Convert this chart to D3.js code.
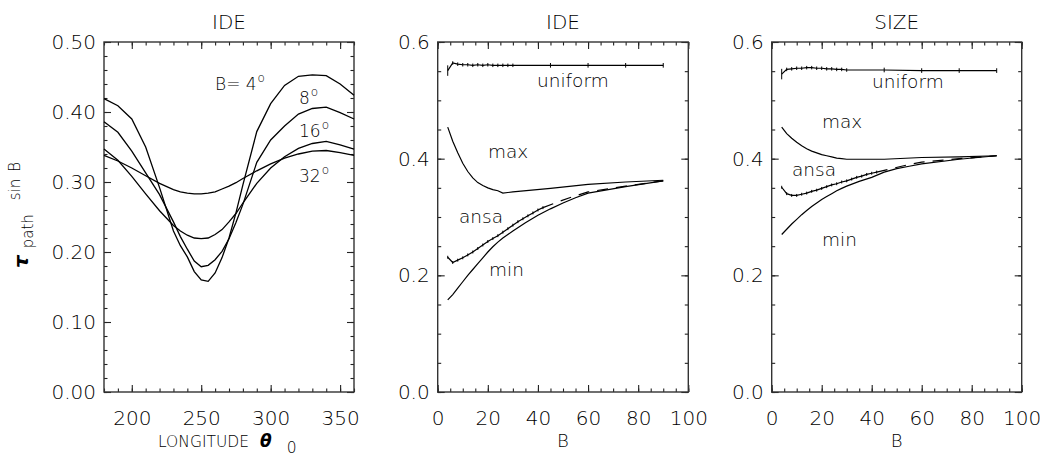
<!DOCTYPE html>
<html><head><meta charset="utf-8">
<script src="https://cdn.jsdelivr.net/npm/d3@7"></script>
<style>
body{margin:0;background:#fff}
text{font-family:"DejaVu Sans",sans-serif;fill:#000;font-weight:200}
</style>
</head><body>
<svg id="c" width="1044" height="456"></svg>
<script>
// ---------- Panel 1: IDE, tau_path sin B vs longitude ----------
const lonDeg = [180,190,200,210,220,230,235,240,245,250,255,260,265,270,275,280,290,300,310,320,330,340,350,360];
const tauB4  = [.419,.409,.390,.350,.292,.230,.209,.193,.172,.160,.158,.170,.192,.220,.256,.296,.372,.412,.438,.451,.453,.452,.440,.424];
const tauB8  = [.386,.371,.344,.313,.282,.243,.222,.204,.187,.179,.181,.189,.201,.219,.242,.268,.328,.360,.380,.397,.405,.407,.399,.390];
const tauB16 = [.347,.331,.308,.283,.259,.238,.230,.224,.220,.219,.220,.225,.232,.243,.255,.270,.298,.320,.336,.348,.355,.358,.353,.347];
const tauB32 = [.338,.330,.320,.309,.298,.289,.286,.284,.283,.283,.284,.286,.290,.294,.299,.305,.316,.326,.334,.340,.344,.345,.342,.338];
const curveLabels1 = ["B= 4","8","16","32"];
const curveLabelPos1 = [[215,90],[299,104],[299,137],[299,182]];

// ---------- Panels 2/3: vs B ----------
const uniB  = [4,6,8,10,12,14,16,18,20,22,24,26,28,30,45,60,75,90];
const ideUniform  = [.551,.564,.562,.561,.561,.560,.561,.560,.561,.560,.560,.560,.560,.560,.560,.560,.560,.560];
const sizeUniform = [.545,.553,.554,.555,.555,.556,.556,.555,.555,.554,.554,.553,.553,.552,.552,.551,.551,.551];
const uniErr = [.009,.003,.003,.003,.003,.003,.003,.003,.003,.003,.003,.003,.003,.003,.004,.004,.004,.004];

const maxB = uniB;
const ideMax  = [.454,.430,.410,.392,.378,.367,.359,.354,.350,.347,.345,.341,.342,.343,.349,.356,.360,.363];
const sizeMax = [.454,.443,.435,.428,.422,.417,.413,.410,.407,.405,.403,.401,.400,.399,.399,.402,.403,.405];

const ansaB = [4,6,8,10,12,14,16,18,20,22,24,26,28,30,32,34,36,38,40,42,48,54,60,75,90];
const ideAnsa  = [.231,.222,.226,.230,.235,.240,.246,.252,.258,.263,.268,.274,.280,.286,.292,.297,.302,.307,.312,.316,.326,.335,.343,.353,.362];
const sizeAnsa = [.351,.340,.337,.337,.339,.341,.344,.346,.349,.352,.355,.357,.360,.362,.365,.368,.370,.373,.375,.377,.383,.389,.394,.400,.405];
const ansaErr = .0025;
const ansaSolidUntil = 42;

const minB = [4,6,8,10,12,14,16,18,20,22,24,26,28,30,35,40,45,50,55,60,75,90];
const ideMin  = [.158,.167,.178,.189,.200,.210,.220,.230,.240,.249,.257,.264,.270,.276,.290,.303,.314,.324,.333,.341,.352,.362];
const sizeMin = [.270,.279,.288,.296,.304,.311,.318,.324,.330,.335,.340,.345,.349,.353,.361,.368,.377,.383,.387,.391,.399,.405];

const seriesNames = ["uniform","max","ansa","min"];
const ideLabelPos  = [[537,87],[488,158],[459,223],[489,276]];
const sizeLabelPos = [[872,88],[822,128],[792,176],[822,246]];

const titles = ["IDE","IDE","SIZE"];

const svg = d3.select("#c");

function panel(o){
  const g = svg.append("g");
  const x = d3.scaleLinear().domain(o.xDomain).range([o.L,o.R]);
  const y = d3.scaleLinear().domain(o.yDomain).range([o.B,o.T]);
  const major = 7, minor = 3.5, fs = 20;
  function ax(gen, scale, vals, size, fmt, tr){
    const a = g.append("g").attr("transform",tr)
      .call(gen(scale).tickValues(vals).tickSize(size).tickPadding(6).tickFormat(fmt));
    a.select(".domain").remove();
    a.selectAll("line").attr("stroke","#222").attr("stroke-width",1.1);
    a.selectAll("text").attr("font-size",fs).attr("font-family","DejaVu Sans").attr("fill","#000").attr("font-weight",200);
    return a;
  }
  const none = () => "";
  ax(d3.axisBottom, x, o.xMinor, -minor, none, `translate(0,${o.B})`);
  const bx = ax(d3.axisBottom, x, o.xMajor, -major, o.xFmt, `translate(0,${o.B})`);
  bx.selectAll("text").attr("y",19);
  ax(d3.axisTop, x, o.xMinor, -minor, none, `translate(0,${o.T})`);
  ax(d3.axisTop, x, o.xMajor, -major, none, `translate(0,${o.T})`);
  ax(d3.axisLeft, y, o.yMinor, -minor, none, `translate(${o.L},0)`);
  const ly = ax(d3.axisLeft, y, o.yMajor, -major, o.yFmt, `translate(${o.L},0)`);
  ly.selectAll("text").attr("x",-8);
  ax(d3.axisRight, y, o.yMinor, -minor, none, `translate(${o.R},0)`);
  ax(d3.axisRight, y, o.yMajor, -major, none, `translate(${o.R},0)`);
  g.append("rect").attr("x",o.L).attr("y",o.T).attr("width",o.R-o.L).attr("height",o.B-o.T)
    .attr("fill","none").attr("stroke","#333").attr("stroke-width",1.4);
  g.append("text").attr("x",(o.L+o.R)/2).attr("y",29).attr("text-anchor","middle")
    .attr("font-size",20).text(o.title);
  return {g,x,y};
}

const line = (x,y) => d3.line().x(d=>x(d[0])).y(d=>y(d[1]));
const zip = (a,b) => a.map((v,i)=>[v,b[i]]);

// ----- Panel 1 -----
const p1 = panel({L:104,R:354,T:42,B:392,xDomain:[180,360],yDomain:[0,0.5],
  xMajor:[200,250,300,350], xMinor:d3.range(180,361,10),
  yMajor:[0,.1,.2,.3,.4,.5], yMinor:d3.range(0,0.501,0.02),
  xFmt:d3.format("d"), yFmt:d3.format(".2f"), title:titles[0]});
[tauB4,tauB8,tauB16,tauB32].forEach(s=>{
  p1.g.append("path").attr("d",line(p1.x,p1.y)(zip(lonDeg,s)))
    .attr("fill","none").attr("stroke","#000").attr("stroke-width",1.3);
});
curveLabels1.forEach((t,i)=>{
  const tx = p1.g.append("text").attr("x",curveLabelPos1[i][0]).attr("y",curveLabelPos1[i][1]).attr("font-size",17);
  tx.append("tspan").text(t);
  tx.append("tspan").attr("font-size",12).attr("dy",-8).attr("dx",1).text("o");
});
// x label
const xl = p1.g.append("text").attr("x",158).attr("y",447).attr("font-size",15.5);
xl.append("tspan").text("LONGITUDE");
xl.append("tspan").attr("dx",11).attr("font-weight","bold").attr("font-style","italic").attr("font-size",17).text("θ");
xl.append("tspan").attr("dx",15).attr("dy",6).attr("font-size",15.5).text("0");
// y label
const yl = svg.append("text").attr("transform","translate(28,268) rotate(-90)").attr("font-size",20);
yl.append("tspan").attr("font-weight","bold").attr("font-style","italic").text("τ");
yl.append("tspan").attr("dy",5).attr("dx",7).attr("font-size",15).text("path");
yl.append("tspan").attr("dy",-13).attr("dx",14).attr("font-size",15).text("sin");
yl.append("tspan").attr("dx",7).attr("font-size",15).text("B");

// ----- Panels 2 and 3 -----
function bPanel(L,R,title,uni,mx,an,mn,labelPos){
  const p = panel({L:L,R:R,T:42,B:392,xDomain:[0,100],yDomain:[0,0.6],
    xMajor:[0,20,40,60,80,100], xMinor:d3.range(0,101,5),
    yMajor:[0,.2,.4,.6], yMinor:d3.range(0,0.601,0.05),
    xFmt:d3.format("d"), yFmt:d3.format(".1f"), title:title});
  const ln = line(p.x,p.y);
  const st = sel => sel.attr("fill","none").attr("stroke","#000").attr("stroke-width",1.2);
  st(p.g.append("path").attr("d",ln(zip(uniB,uni))));
  uniB.forEach((b,i)=>{
    p.g.append("line").attr("x1",p.x(b)).attr("x2",p.x(b))
      .attr("y1",p.y(uni[i]-uniErr[i])).attr("y2",p.y(uni[i]+uniErr[i]))
      .attr("stroke","#000").attr("stroke-width",1);
  });
  st(p.g.append("path").attr("d",ln(zip(maxB,mx))));
  const ad = zip(ansaB,an);
  st(p.g.append("path").attr("d",ln(ad.filter(d=>d[0]<=ansaSolidUntil))));
  st(p.g.append("path").attr("d",ln(ad.filter(d=>d[0]>=ansaSolidUntil))).attr("stroke-dasharray","11,8"));
  ad.filter(d=>d[0]<=ansaSolidUntil).forEach(d=>{
    p.g.append("line").attr("x1",p.x(d[0])).attr("x2",p.x(d[0]))
      .attr("y1",p.y(d[1]-ansaErr)).attr("y2",p.y(d[1]+ansaErr))
      .attr("stroke","#000").attr("stroke-width",1);
  });
  st(p.g.append("path").attr("d",ln(zip(minB,mn))));
  seriesNames.forEach((n,i)=>{
    p.g.append("text").attr("x",labelPos[i][0]).attr("y",labelPos[i][1]).attr("font-size",18.5).text(n);
  });
  p.g.append("text").attr("x",(L+R)/2).attr("y",447).attr("text-anchor","middle").attr("font-size",18).text("B");
}
bPanel(437.7,688.3,titles[1],ideUniform,ideMax,ideAnsa,ideMin,ideLabelPos);
bPanel(771.7,1021.7,titles[2],sizeUniform,sizeMax,sizeAnsa,sizeMin,sizeLabelPos);
</script>
</body></html>
